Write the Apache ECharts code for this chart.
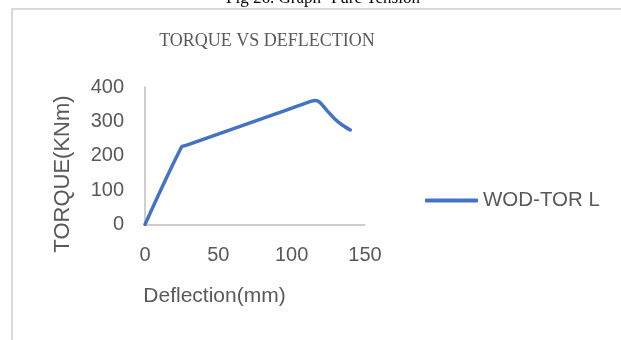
<!DOCTYPE html>
<html>
<head>
<meta charset="utf-8">
<script src="https://cdn.jsdelivr.net/npm/echarts@6/dist/echarts.min.js"></script>
<style>
  html, body { margin: 0; padding: 0; background: #ffffff; }
  #chart { width: 621px; height: 340px; }
</style>
</head>
<body>
<div id="chart"></div>
<script>
// Torque vs deflection readings for specimen WOD-TOR L
const deflection = [0, 25, 28, 60, 90, 113, 116, 119, 124, 130, 135, 140];
const torque     = [0, 226, 230, 278, 323, 358, 361, 356, 332, 305, 288, 275];
const seriesName = 'WOD-TOR L';
const xTicks = { min: 0, max: 150, step: 50 };
const yTicks = { min: 0, max: 400, step: 100 };

const points = deflection.map((d, i) => [d, torque[i]]);

const chart = echarts.init(document.getElementById('chart'), null, { renderer: 'canvas' });
const labelColor = '#595959';
const sansFont = '"Liberation Sans", Arial, sans-serif';
const serifFont = '"Liberation Serif", "Times New Roman", serif';

chart.setOption({
  animation: false,
  backgroundColor: '#ffffff',
  graphic: [
    {
      type: 'rect',
      shape: { x: 12, y: 9, width: 700, height: 400 },
      style: { fill: 'none', stroke: '#d9d9d9', lineWidth: 2 }
    },
    {
      type: 'text',
      x: 323, y: 7,
      style: {
        text: 'Fig 26. Graph- Pure Tension',
        fill: '#000000',
        font: '17px ' + serifFont,
        textAlign: 'center',
        textVerticalAlign: 'bottom'
      }
    },
    {
      type: 'text',
      x: 267, y: 41,
      style: {
        text: 'TORQUE VS DEFLECTION',
        fill: labelColor,
        font: '18px ' + serifFont,
        textAlign: 'center',
        textVerticalAlign: 'middle'
      }
    },
    {
      // vertical axis title
      type: 'text',
      x: 63, y: 174,
      rotation: Math.PI / 2,
      style: {
        text: 'TORQUE(KNm)',
        fill: labelColor,
        font: '22px ' + sansFont,
        textAlign: 'center',
        textVerticalAlign: 'middle'
      }
    },
    {
      // horizontal axis title
      type: 'text',
      x: 214.5, y: 296,
      style: {
        text: 'Deflection(mm)',
        fill: labelColor,
        font: '21px ' + sansFont,
        textAlign: 'center',
        textVerticalAlign: 'middle'
      }
    }
  ],
  legend: {
    left: 425,
    top: 190,
    padding: 0,
    icon: 'roundRect',
    itemWidth: 53,
    itemHeight: 4,
    itemGap: 10,
    textStyle: { color: labelColor, fontSize: 20.5, fontFamily: sansFont, padding: [0, 0, 0, 0] },
    data: [seriesName]
  },
  grid: { left: 145, right: 256, top: 87, bottom: 115.5, containLabel: false },
  xAxis: {
    type: 'value',
    min: xTicks.min, max: xTicks.max, interval: xTicks.step,
    axisLine: { show: true, lineStyle: { color: '#bfbfbf', width: 1.5 } },
    axisTick: { show: false },
    splitLine: { show: false },
    axisLabel: { color: labelColor, fontSize: 20, fontFamily: sansFont, margin: 21 }
  },
  yAxis: {
    type: 'value',
    min: yTicks.min, max: yTicks.max, interval: yTicks.step,
    axisLine: { show: true, lineStyle: { color: '#bfbfbf', width: 1.5 } },
    axisTick: { show: false },
    splitLine: { show: false },
    axisLabel: { color: labelColor, fontSize: 20, fontFamily: sansFont, margin: 21 }
  },
  series: [
    {
      name: seriesName,
      type: 'line',
      data: points,
      smooth: 0.3,
      showSymbol: false,
      symbol: 'none',
      lineStyle: { color: '#4472c4', width: 3.5, cap: 'round', join: 'round' },
      itemStyle: { color: '#4472c4' }
    }
  ]
});
</script>
</body>
</html>
